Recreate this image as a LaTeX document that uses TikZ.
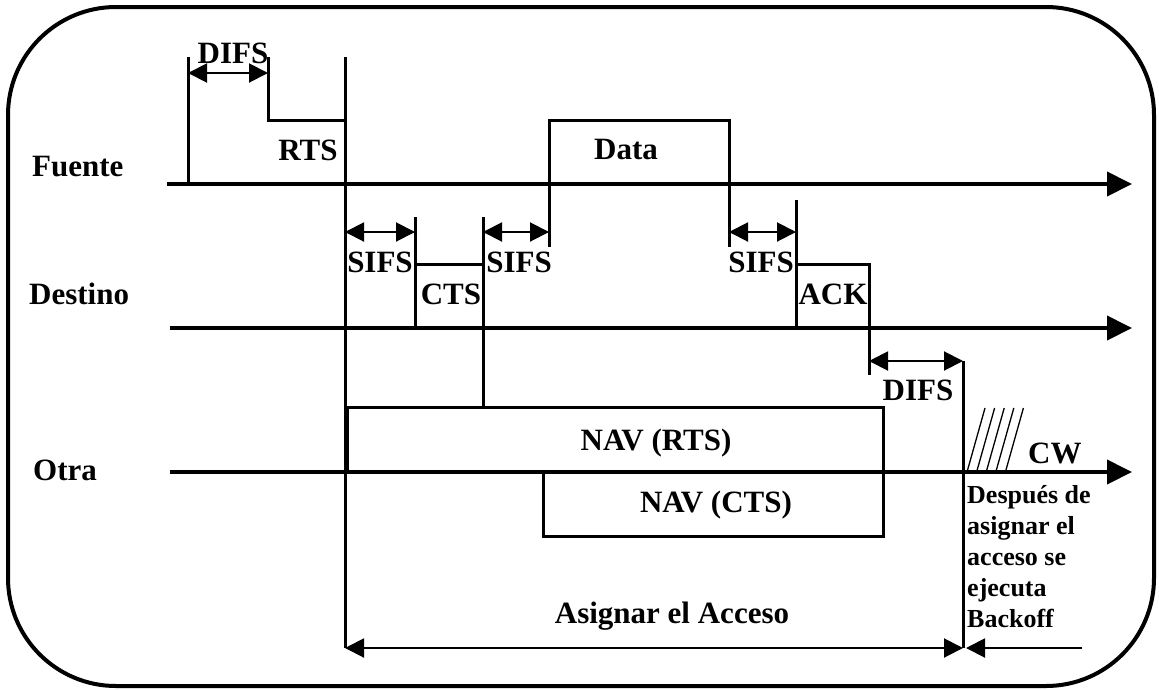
\documentclass[tikz,border=0pt]{standalone}
\usepackage{fontspec}
\setmainfont{Liberation Serif}
\usetikzlibrary{arrows.meta}
\newcommand{\rtsLabelFont}{\fontsize{31}{31}\selectfont\bfseries}
\newcommand{\rtsNoteFont}{\fontsize{26}{31}\selectfont\bfseries}

\tikzset{
  rtsAxis/.style={line width=4pt, -{Triangle[length=25pt,width=24pt]}},
  rtsEdge/.style={line width=3pt},
  rtsSpan/.style={line width=2pt, {Triangle[length=19pt,width=19pt]}-{Triangle[length=19pt,width=19pt]}},
  rtsText/.style={anchor=base, inner sep=0pt, font=\rtsLabelFont},
  rtsNote/.style={anchor=base west, inner sep=0pt, font=\rtsNoteFont},
}

\begin{document}
\begin{tikzpicture}[x=1pt,y=-1pt]
\useasboundingbox (0,0) rectangle (1159,689);
\draw[line width=4pt, rounded corners=108pt] (8,7) rectangle (1154,686);
% ejes de tiempo
\coordinate (fuenteIni) at (167,184);
\coordinate (fuenteFin) at (1132,184);
\coordinate (destinoIni) at (170,328);
\coordinate (destinoFin) at (1132,328);
\coordinate (otraIni) at (170,472);
\coordinate (otraFin) at (1132,472);
\draw[rtsAxis] (fuenteIni) -- (fuenteFin);
\draw[rtsAxis] (destinoIni) -- (destinoFin);
\draw[rtsAxis] (otraIni) -- (otraFin);
\node[rtsText, anchor=base west] (fuente) at (32,176) {Fuente};
\node[rtsText, anchor=base west] (destino) at (29,304) {Destino};
\node[rtsText, anchor=base west] (otra) at (33,480) {Otra};
% tramas
\draw[rtsEdge] (188,57) -- (188,184);
\draw[rtsEdge] (268,57) -- (268,120) -- (345,120);
\draw[rtsEdge] (345,57) -- (345,648);
\draw[rtsEdge] (549,247) -- (549,120) -- (729,120) -- (729,247);
\draw[rtsEdge] (415,217) -- (415,328);
\draw[rtsEdge] (415,264) -- (483,264);
\draw[rtsEdge] (483,217) -- (483,407);
\draw[rtsEdge] (796,200) -- (796,328);
\draw[rtsEdge] (796,264) -- (869,264) -- (869,375);
\draw[rtsEdge] (347,407) rectangle (883,472);
\draw[rtsEdge] (543,472) rectangle (883,536);
\draw[rtsEdge] (963,361) -- (963,648);
\foreach \i in {0,...,4}
  \draw[line width=1.3pt] (967+9.6*\i,472) -- (985+9.6*\i,408);
\node[rtsText] (rts) at (308,160) {RTS};
\node[rtsText] (data) at (626,159) {Data};
\node[rtsText] (cts) at (451,304) {CTS};
\node[rtsText] (ack) at (833,304) {ACK};
\node[rtsText] (navRts) at (656,450) {NAV (RTS)};
\node[rtsText] (navCts) at (716,512) {NAV (CTS)};
\node[rtsText, anchor=base west] (cw) at (1028,463) {CW};
% intervalos
\coordinate (difsA) at (188,73);
\coordinate (difsB) at (268,73);
\coordinate (sifsA) at (345,232);
\coordinate (sifsB) at (415,232);
\coordinate (sifsC) at (483,232);
\coordinate (sifsD) at (549,232);
\coordinate (sifsE) at (729,232);
\coordinate (sifsF) at (796,232);
\coordinate (difsC) at (869,361);
\coordinate (difsD) at (963,361);
\coordinate (accesoIni) at (345,648);
\coordinate (accesoFin) at (963,648);
\coordinate (backoffIni) at (966,648);
\coordinate (backoffFin) at (1082,648);
\draw[rtsSpan] (difsA) -- (difsB);
\draw[rtsSpan] (sifsA) -- (sifsB);
\draw[rtsSpan] (sifsC) -- (sifsD);
\draw[rtsSpan] (sifsE) -- (sifsF);
\draw[rtsSpan] (difsC) -- (difsD);
\draw[rtsSpan] (accesoIni) -- (accesoFin);
\draw[line width=2pt, -{Triangle[length=19pt,width=19pt]}] (backoffFin) -- (backoffIni);
\node[rtsText] (difs1) at (233,63) {DIFS};
\node[rtsText] (sifs1) at (380,272) {SIFS};
\node[rtsText] (sifs2) at (519,272) {SIFS};
\node[rtsText] (sifs3) at (761,272) {SIFS};
\node[rtsText] (difs2) at (918,400) {DIFS};
\node[rtsText] (acceso) at (672,623) {Asignar el Acceso};
\foreach \txt [count=\k] in {Después de, asignar el, acceso se, ejecuta, Backoff}
  \node[rtsNote] (nota\k) at (967,472+31*\k) {\txt};
\end{tikzpicture}
\end{document}
